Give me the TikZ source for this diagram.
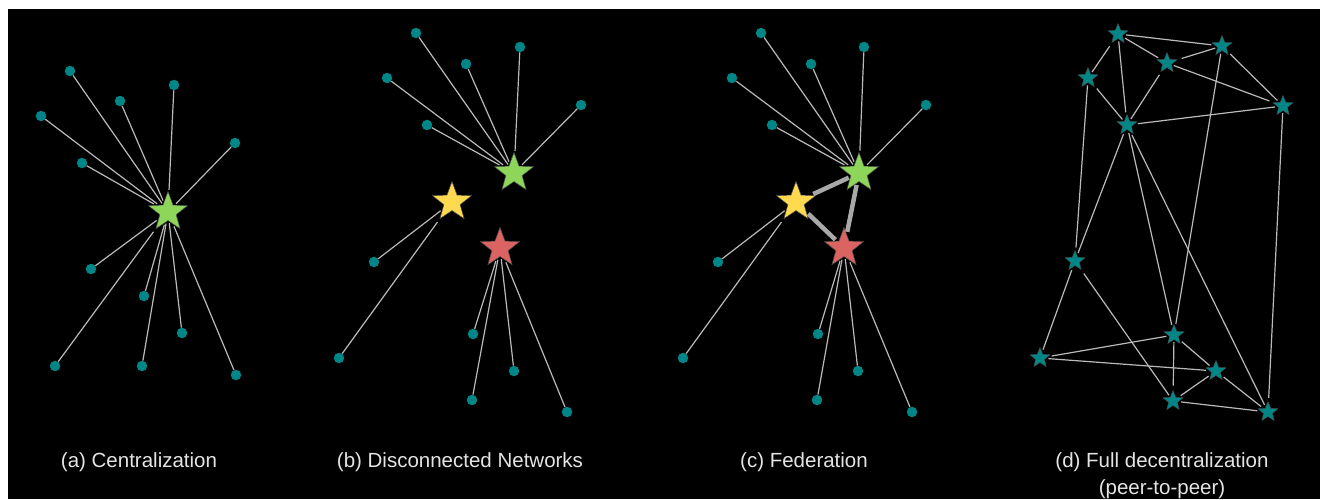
\documentclass[tikz,border=0pt]{standalone}
\usepackage{fontspec}
\setmainfont{Liberation Sans}
\usepackage{xcolor}
\usepackage{tikz}
\usetikzlibrary{shapes.geometric}

\definecolor{dotteal}{RGB}{0,134,134}
\definecolor{hubgreen}{RGB}{141,214,90}
\definecolor{hubyellow}{RGB}{255,217,80}
\definecolor{hubred}{RGB}{219,99,97}
\definecolor{linkgray}{RGB}{186,186,186}
\definecolor{fedgray}{RGB}{168,168,168}
\definecolor{captext}{RGB}{228,228,228}

\begin{document}
\begin{tikzpicture}[x=1pt, y=-1pt,
   dot/.style={circle, fill=dotteal, minimum size=10.5pt, inner sep=0pt},
   hub/.style={star, star points=5, star point ratio=2.4, minimum size=41pt, inner sep=0pt, draw=black!70, line width=0.5pt, outer sep=1.5pt},
   peer/.style={star, star points=5, star point ratio=2.3, minimum size=21pt, inner sep=0pt, fill=dotteal, draw=black!70, line width=0.4pt, outer sep=2pt},
   link/.style={draw=linkgray, line width=1.2pt},
   fed/.style={draw=fedgray, line width=4.5pt},
   caption/.style={text=captext, font=\fontsize{20.5}{27}\selectfont, align=center}]

   \useasboundingbox (0,0) rectangle (1320,499);
   \fill[white] (0,0) rectangle (1320,499);
   \fill[black] (8,9) rectangle (1320,499);

   % (a) one hub
   \node[hub, fill=hubgreen] (ac) at (168,212) {};
   \node[dot] (a1) at (70,71) {};
   \node[dot] (a2) at (174,85) {};
   \node[dot] (a3) at (120,101) {};
   \node[dot] (a4) at (41,116) {};
   \node[dot] (a5) at (235,143) {};
   \node[dot] (a6) at (82,163) {};
   \node[dot] (a7) at (91,269) {};
   \node[dot] (a8) at (144,296) {};
   \node[dot] (a9) at (182,333) {};
   \node[dot] (a10) at (55,366) {};
   \node[dot] (a11) at (142,366) {};
   \node[dot] (a12) at (236,375) {};

   \draw[link] (ac) edge (a1) edge (a2) edge (a3) edge (a4) edge (a5) edge (a6);
   \draw[link] (ac) edge (a7) edge (a8) edge (a9) edge (a10) edge (a11) edge (a12);

   % (b) three hubs, no links between them
   \node[hub, fill=hubgreen] (bg) at (514,173) {};
   \node[hub, fill=hubyellow] (by) at (452,202) {};
   \node[hub, fill=hubred] (br) at (500,248) {};
   \node[dot] (b1) at (416,33) {};
   \node[dot] (b2) at (520,47) {};
   \node[dot] (b3) at (466,64) {};
   \node[dot] (b4) at (387,78) {};
   \node[dot] (b5) at (581,105) {};
   \node[dot] (b6) at (427,125) {};
   \node[dot] (b7) at (374,262) {};
   \node[dot] (b8) at (339,358) {};
   \node[dot] (b9) at (473,334) {};
   \node[dot] (b10) at (514,371) {};
   \node[dot] (b11) at (472,400) {};
   \node[dot] (b12) at (567,412) {};

   \draw[link] (bg) edge (b1) edge (b2) edge (b3) edge (b4) edge (b5) edge (b6);
   \draw[link] (by) edge (b7) edge (b8);
   \draw[link] (br) edge (b9) edge (b10) edge (b11) edge (b12);

   % (c) same hubs, linked
   \node[hub, fill=hubgreen] (cg) at (859,173) {};
   \node[hub, fill=hubyellow] (cy) at (796,202) {};
   \node[hub, fill=hubred] (cr) at (844,248) {};
   \node[dot] (c1) at (761,33) {};
   \node[dot] (c2) at (864,47) {};
   \node[dot] (c3) at (811,64) {};
   \node[dot] (c4) at (732,78) {};
   \node[dot] (c5) at (926,105) {};
   \node[dot] (c6) at (772,125) {};
   \node[dot] (c7) at (718,262) {};
   \node[dot] (c8) at (683,358) {};
   \node[dot] (c9) at (818,334) {};
   \node[dot] (c10) at (858,371) {};
   \node[dot] (c11) at (817,400) {};
   \node[dot] (c12) at (912,412) {};

   \draw[link] (cg) edge (c1) edge (c2) edge (c3) edge (c4) edge (c5) edge (c6);
   \draw[link] (cy) edge (c7) edge (c8);
   \draw[link] (cr) edge (c9) edge (c10) edge (c11) edge (c12);
   \draw[fed] (cy) -- (cg);
   \draw[fed] (cy) -- (cr);
   \draw[fed] (cg) -- (cr);

   % (d) peers only
   \node[peer] (d1) at (1118,34) {};
   \node[peer] (d2) at (1222,46) {};
   \node[peer] (d3) at (1167,63) {};
   \node[peer] (d4) at (1088,78) {};
   \node[peer] (d5) at (1283,106) {};
   \node[peer] (d6) at (1127,125) {};
   \node[peer] (d7) at (1075,261) {};
   \node[peer] (d8) at (1174,335) {};
   \node[peer] (d9) at (1040,358) {};
   \node[peer] (d10) at (1216,371) {};
   \node[peer] (d11) at (1173,401) {};
   \node[peer] (d12) at (1268,412) {};

   \draw[link] (d1) edge (d2) edge (d3) edge (d4) edge (d6);
   \draw[link] (d3) edge (d2) edge (d5) edge (d6);
   \draw[link] (d2) edge (d5) edge (d8);
   \draw[link] (d6) edge (d4) edge (d5) edge (d7) edge (d8) edge (d12);
   \draw[link] (d4) edge (d7);
   \draw[link] (d5) edge (d12);
   \draw[link] (d7) edge (d9) edge (d11);
   \draw[link] (d9) edge (d8) edge (d10);
   \draw[link] (d8) edge (d10) edge (d11);
   \draw[link] (d11) edge (d10) edge (d12);
   \draw[link] (d10) edge (d12);

   \node[caption] (ta) at (139,462) {(a) Centralization};
   \node[caption] (tb) at (460,462) {(b) Disconnected Networks};
   \node[caption] (tc) at (804,462) {(c) Federation};
   \node[caption] (td) at (1162,476) {(d) Full decentralization\\(peer-to-peer)};
\end{tikzpicture}
\end{document}
